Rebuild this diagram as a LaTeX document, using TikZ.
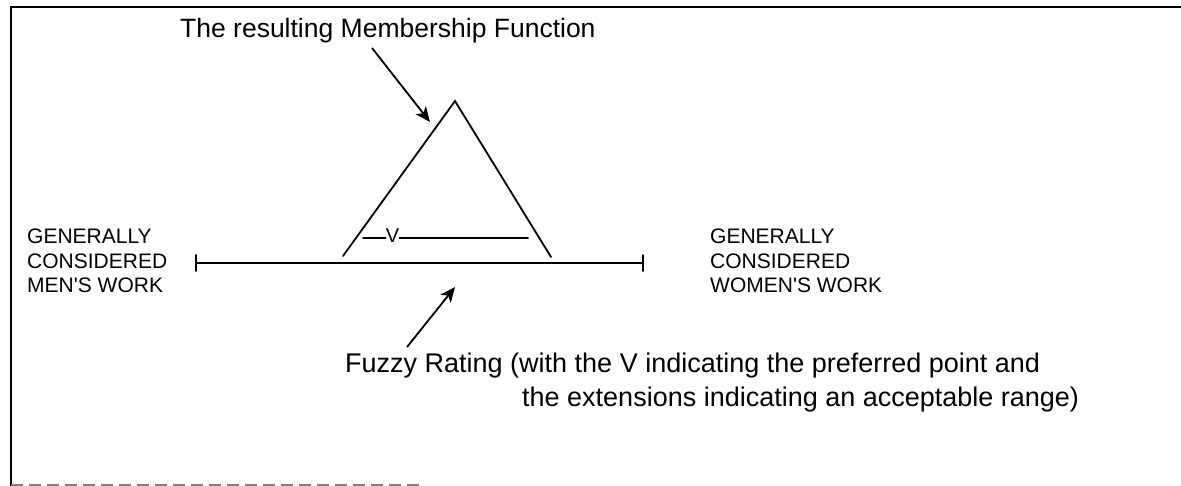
\documentclass[tikz,border=0pt]{standalone}
\usepackage{fontspec}
\setmainfont{Liberation Sans}
\usetikzlibrary{arrows.meta}
\tikzset{
  ln/.style={line width=1.8pt, line cap=round},
  arr/.style={line width=1.8pt, -{Stealth[length=15pt,width=13pt,inset=4pt]}},
  lbl/.style={inner sep=0pt, font=\fontsize{21}{24.5}\selectfont, align=left},
  big/.style={inner sep=0pt, font=\fontsize{27}{31}\selectfont},
}
\begin{document}
\begin{tikzpicture}[x=1pt,y=-1pt]
\useasboundingbox (0,0) rectangle (1181,486);
% frame
\draw[line width=2.2pt] (11,486) -- (11,7) -- (1181,7);
\draw[line width=1.5pt, gray, dash pattern=on 12pt off 6pt] (11,485) -- (420,485);
% title
\node[big, font=\fontsize{26.5}{30}\selectfont, anchor=base west] (title) at (180,38) {The resulting Membership Function};
\coordinate (tA) at (372,48);
\coordinate (tB) at (430,122);
\draw[arr] (tA) -- (tB);
% triangle
\coordinate (apex) at (455,101);
\coordinate (lf) at (343,256);
\coordinate (rf) at (551,257);
\draw[ln] (lf) -- (apex) -- (rf);
% fuzzy rating inner
\node[inner sep=0pt, font=\fontsize{20}{24}\selectfont] (V) at (392.5,236) {V};
\coordinate (d1) at (363,238);
\coordinate (d2) at (528,238);
\draw[ln, line width=1.5pt] (d1) -- (V.west |- d1);
\draw[ln, line width=1.5pt] (V.east |- d2) -- (d2);
% axis
\coordinate (axL) at (196,263);
\coordinate (axR) at (643,263);
\draw[ln] (axL) -- (axR);
\draw[ln] ([yshift=-8pt]axL) -- ([yshift=8pt]axL);
\draw[ln] ([yshift=-8pt]axR) -- ([yshift=8pt]axR);
% side labels
\node[lbl, anchor=north west] (men) at (27,229) {GENERALLY\\CONSIDERED\\MEN\textquotesingle S WORK};
\node[lbl, anchor=north west] (women) at (710,229) {GENERALLY\\CONSIDERED\\WOMEN\textquotesingle S WORK};
% bottom text
\node[big, anchor=base west] (fz1) at (345,373) {Fuzzy Rating (with the V indicating the preferred point and};
\node[big, anchor=base west] (fz2) at (522,406) {the extensions indicating an acceptable range)};
\coordinate (bA) at (407,347);
\coordinate (bB) at (455,287);
\draw[arr] (bA) -- (bB);
\end{tikzpicture}
\end{document}
